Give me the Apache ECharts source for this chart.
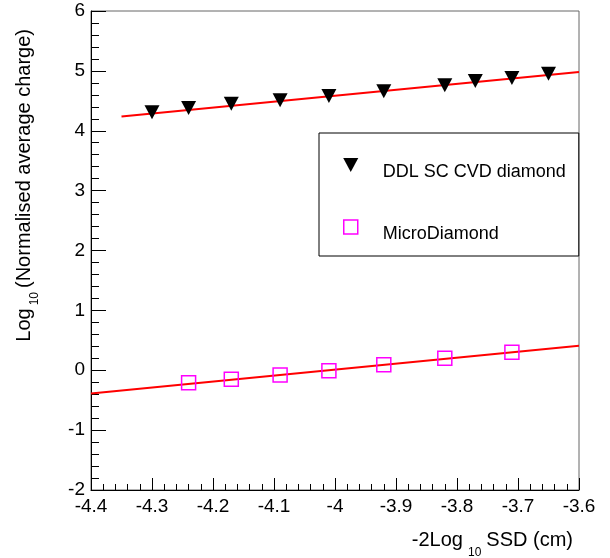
<!DOCTYPE html>
<html>
<head>
<meta charset="utf-8">
<script src="https://cdn.jsdelivr.net/npm/echarts@6/dist/echarts.min.js"></script>
<style>
  html, body { margin: 0; padding: 0; background: #fff; }
  #chart { width: 610px; height: 558px; }
</style>
</head>
<body>
<div id="chart"></div>
<script>
// data
const ddlX = [-4.30, -4.24, -4.17, -4.09, -4.01, -3.92, -3.82, -3.77, -3.71, -3.65];
const ddlY = [4.31, 4.38, 4.45, 4.51, 4.58, 4.66, 4.76, 4.83, 4.88, 4.95];
const microX = [-4.24, -4.17, -4.09, -4.01, -3.92, -3.82, -3.71];
const microY = [-0.21, -0.15, -0.08, -0.01, 0.09, 0.20, 0.30];
const ddlFitX = [-4.35, -3.6];
const ddlFitY = [4.24, 4.98];
const microFitX = [-4.4, -3.6];
const microFitY = [-0.39, 0.41];
const seriesNames = ['DDL SC CVD diamond', 'MicroDiamond'];

const FONT = '"Liberation Sans", Arial, Helvetica, sans-serif';
const triDown = 'path://M0,0L14,0L7,13Z';
const square = 'path://M0,0L10,0L10,10L0,10Z';

function pairs(xs, ys) {
  return xs.map((x, i) => [x, ys[i]]);
}

// measure text so the subscript pieces can be laid next to each other
const ctx = document.createElement('canvas').getContext('2d');
function textWidth(str, size) {
  ctx.font = size + 'px ' + FONT;
  return ctx.measureText(str).width;
}

// parts: [text, size, baseline shift, gap before]
function titleGroup(parts, endX, baseY, rotation) {
  let x = 0;
  const items = [];
  parts.forEach((p) => {
    x += p[3] || 0;
    items.push({ text: p[0], size: p[1], dy: p[2], x: x });
    x += textWidth(p[0], p[1]);
  });
  return {
    type: 'group',
    x: endX,
    y: baseY,
    rotation: rotation,
    children: items.map((p) => ({
      type: 'text',
      x: p.x - x,
      y: p.dy - 0.35 * p.size,
      style: {
        text: p.text,
        font: p.size + 'px ' + FONT,
        fill: '#000',
        verticalAlign: 'middle',
        align: 'left',
      },
    })),
  };
}

const legendFont = 18;
const legendLeft = 319;
const legendRight = 579;
const legendPadL = 24;
const legendIconSpan = 40; // icon plus gap before the text, as laid out by echarts
const legendPadR = legendRight - legendLeft - legendPadL - legendIconSpan
  - Math.max(...seriesNames.map((n) => textWidth(n, legendFont)));

const chart = echarts.init(document.getElementById('chart'), null, { renderer: 'canvas' });

const option = {
  backgroundColor: '#fff',
  animation: false,
  grid: {
    left: 91,
    right: 31,
    top: 11,
    bottom: 68,
    show: true,
    borderColor: '#666',
    borderWidth: 1,
    backgroundColor: 'transparent',
  },
  legend: {
    orient: 'vertical',
    left: legendLeft,
    top: 133,
    padding: [16, legendPadR, 13, legendPadL],
    itemGap: 30,
    itemWidth: 54,
    itemHeight: 14,
    symbolKeepAspect: true,
    backgroundColor: '#fff',
    borderColor: '#000',
    borderWidth: 1,
    borderRadius: 0,
    formatter: (name) => '{t|' + name + '}',
    textStyle: {
      fontFamily: FONT,
      fontSize: legendFont,
      color: '#000',
      rich: {
        t: {
          fontFamily: FONT,
          fontSize: legendFont,
          color: '#000',
          lineHeight: 14,
          padding: [14, 0, 0, 0],
        },
      },
    },
    data: [
      { name: seriesNames[0], icon: triDown, itemStyle: { color: '#000' } },
      {
        name: seriesNames[1],
        icon: square,
        itemStyle: { color: 'rgba(0,0,0,0)', borderColor: '#ff00ff', borderWidth: 1.5 },
      },
    ],
  },
  xAxis: {
    type: 'value',
    min: -4.4,
    max: -3.6,
    interval: 0.1,
    axisLine: { onZero: false, lineStyle: { color: '#000', width: 1 } },
    axisTick: { inside: true, length: 12, lineStyle: { color: '#000' } },
    minorTick: { show: true, splitNumber: 5, length: 6, lineStyle: { color: '#000' } },
    splitLine: { show: false },
    axisLabel: {
      margin: 7,
      color: '#000',
      fontFamily: FONT,
      fontSize: 19,
      formatter: (v) => String(+v.toFixed(1)),
    },
  },
  yAxis: {
    type: 'value',
    min: -2,
    max: 6,
    interval: 1,
    axisLine: { onZero: false, lineStyle: { color: '#000', width: 1 } },
    axisTick: { inside: true, length: 15, lineStyle: { color: '#000' } },
    minorTick: { show: true, splitNumber: 5, length: 8, lineStyle: { color: '#000' } },
    splitLine: { show: false },
    axisLabel: {
      margin: 6,
      color: '#000',
      fontFamily: FONT,
      fontSize: 19,
    },
  },
  graphic: [
    titleGroup([['-2Log', 20, 0], ['10', 12, 10, 5], ['SSD (cm)', 20, 0, 5]], 573, 547, 0),
    titleGroup([['Log', 20, 0], ['10', 12, 8, 3], ['(Normalised average charge)', 20, 0, 4]], 31, 29, Math.PI / 2),
  ],
  series: [
    {
      name: seriesNames[0] + ' fit',
      type: 'line',
      data: pairs(ddlFitX, ddlFitY),
      showSymbol: false,
      symbol: 'none',
      lineStyle: { color: '#ff0000', width: 2 },
      z: 1,
    },
    {
      name: seriesNames[1] + ' fit',
      type: 'line',
      data: pairs(microFitX, microFitY),
      showSymbol: false,
      symbol: 'none',
      lineStyle: { color: '#ff0000', width: 2 },
      z: 1,
    },
    {
      name: seriesNames[0],
      type: 'scatter',
      data: pairs(ddlX, ddlY),
      symbol: triDown,
      symbolSize: [15, 14],
      itemStyle: { color: '#000', opacity: 1 },
      z: 3,
    },
    {
      name: seriesNames[1],
      type: 'scatter',
      data: pairs(microX, microY),
      symbol: square,
      symbolSize: 14,
      itemStyle: { color: 'rgba(0,0,0,0)', borderColor: '#ff00ff', borderWidth: 1.5, opacity: 1 },
      z: 3,
    },
  ],
};

chart.setOption(option);
window.addEventListener('resize', () => {
  chart.resize();
});
</script>
</body>
</html>
